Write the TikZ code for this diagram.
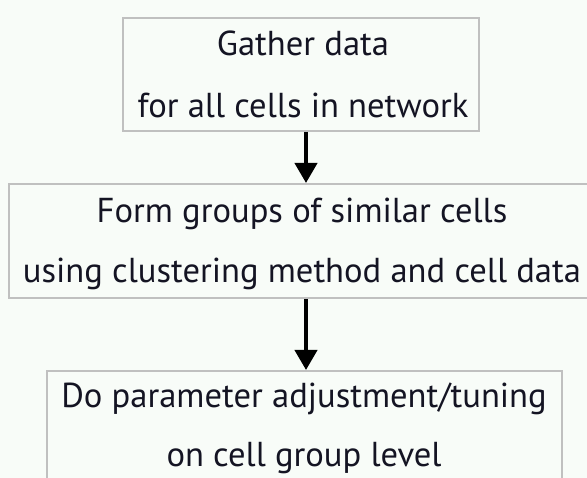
\documentclass[tikz,border=0pt]{standalone}
\usepackage{fontspec}
\setmainfont{PT Sans}
\usetikzlibrary{arrows.meta}
\definecolor{pagebg}{RGB}{248,252,248}
\definecolor{boxline}{RGB}{192,192,192}
\definecolor{ink}{RGB}{20,20,35}
\tikzset{
  x=1pt, y=-1pt,
  stepbox/.style={draw=boxline, line width=2pt, rectangle, inner sep=0pt},
  steptext/.style={anchor=base, inner sep=0pt, text=ink, font=\fontsize{34.6}{34.6}\selectfont},
  flow/.style={line width=4pt, -{Triangle[width=22pt,length=20pt]}, black}
}
\begin{document}
\begin{tikzpicture}
  \fill[pagebg] (0,0) rectangle (587,478);
  \useasboundingbox (0,0) rectangle (587,478);

  % process boxes
  \node[stepbox, minimum width=356pt, minimum height=113pt] (gather) at (301,74.5) {};
  \node[stepbox, minimum width=588pt, minimum height=114pt] (group) at (303,241) {};
  \node[stepbox, minimum width=515pt, minimum height=114pt] (tune) at (304.5,428) {};

  % box texts
  \node[steptext] (gather1) at (303,56) {Gather data};
  \node[steptext] (gather2) at (303,118) {for all cells in network};
  \node[steptext] (group1) at (302,223) {Form groups of similar cells};
  \node[steptext] (group2) at (302,283) {using clustering method and cell data};
  \node[steptext] (tune1) at (304,408) {Do parameter adjustment/tuning};
  \node[steptext] (tune2) at (304,467) {on cell group level};

  % connectors
  \draw[flow] (gather.south -| 306,0) -- (group.north -| 306,0);
  \draw[flow] (group.south -| 306,0) -- (tune.north -| 306,0);
\end{tikzpicture}
\end{document}
